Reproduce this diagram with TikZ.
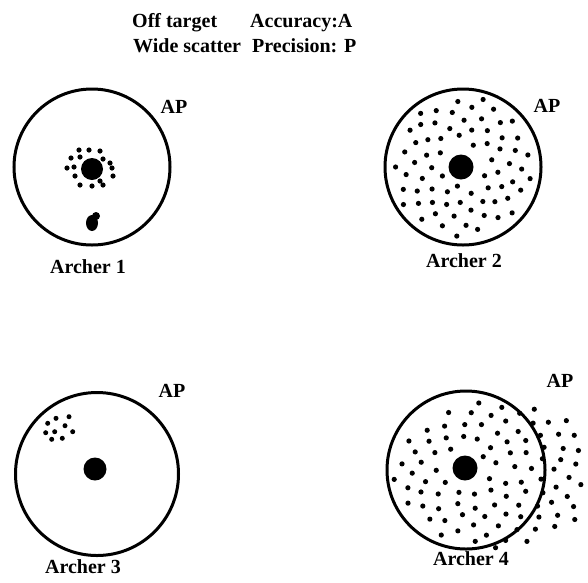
\documentclass[tikz,border=0pt]{standalone}
\usepackage{fontspec}
\setmainfont{Liberation Serif}
\begin{document}
\begin{tikzpicture}[x=1pt,y=-1pt,
  target/.style={circle,draw,line width=3pt,inner sep=0pt,minimum size=#1},
  bull/.style={circle,fill,inner sep=0pt,minimum size=#1},
  lbl/.style={font=\fontsize{20}{24}\selectfont\bfseries,inner sep=0pt,anchor=base},
  hdr/.style={font=\fontsize{20}{24}\selectfont\bfseries,inner sep=0pt,anchor=base west}]
\useasboundingbox (0,0) rectangle (588,582);
% header
\node[hdr] (h1) at (132,27) {Off target};
\node[hdr] (h2) at (250,27) {Accuracy:A};
\node[hdr] (h3) at (133,52) {Wide scatter};
\node[hdr] (h4) at (252,52) {Precision: P};
% Archer 1
\node[target=156pt] (t1) at (92,167) {};
\node[bull=22pt] (b1) at (92,169) {};
\foreach \dx/\dy in {-13/-19,-3/-19,8/-18,-21/-11,-12/-12,11/-10,-25/-1,-18/-2,18/-6,21/7,-17/7,-12/16,0/17,8/12,11/16,20/-1}
  \fill (b1.center) ++(\dx,\dy) circle (2.6pt);
\fill (92,223) ellipse (6pt and 8pt);
\fill (96,216) circle (4pt);
\node[lbl] (ap1) at (174,113) {AP};
\node[lbl] (n1) at (88,273) {Archer 1};
% Archer 2
\node[target=156pt] (t2) at (463,167) {};
\node[bull=25pt] (b2) at (461,167) {};
\pgfmathsetseed{11}
\foreach \i in {1,...,78} {
  \pgfmathsetmacro\px{463+70*sqrt(\i/78)*cos(\i*137.508)+1.5*rand}
  \pgfmathsetmacro\py{167+70*sqrt(\i/78)*sin(\i*137.508)+1.5*rand}
  \pgfmathtruncatemacro\ok{veclen(\px-461,\py-167)>19 ? 1 : 0}
  \ifnum\ok=1 \fill (\px,\py) circle (2.6pt); \fi
}
\node[lbl] (ap2) at (547,112) {AP};
\node[lbl] (n2) at (464,267) {Archer 2};
% Archer 3
\node[target=163pt] (t3) at (97,474) {};
\node[bull=23pt] (b3) at (95,469) {};
\foreach \x/\y in {47.7/423.3,56/418.3,69/416.7,65/425.7,45.7/432.7,54.7/431.7,72.7/431.7,51.7/439.3,62.3/438.3}
  \fill (\x,\y) circle (2.5pt);
\node[lbl] (ap3) at (172,397) {AP};
\node[lbl] (n3) at (83,573) {Archer 3};
% Archer 4
\node[target=158pt] (t4) at (466,470) {};
\node[bull=25pt] (b4) at (465,468) {};
\pgfmathsetseed{5}
\foreach \i in {1,...,108} {
  \pgfmathsetmacro\px{496+102*sqrt(\i/108)*cos(\i*137.508)+1.5*rand}
  \pgfmathsetmacro\py{474+73*sqrt(\i/108)*sin(\i*137.508)+1.5*rand}
  \pgfmathtruncatemacro\ok{(veclen(\px-465,\py-468)>19)&&(\px<586)&&(\px>394) ? 1 : 0}
  \ifnum\ok=1 \fill (\px,\py) circle (2.6pt); \fi
}
\node[lbl] (ap4) at (560,387) {AP};
\node[lbl] (n4) at (471,565) {Archer 4};
\end{tikzpicture}
\end{document}
